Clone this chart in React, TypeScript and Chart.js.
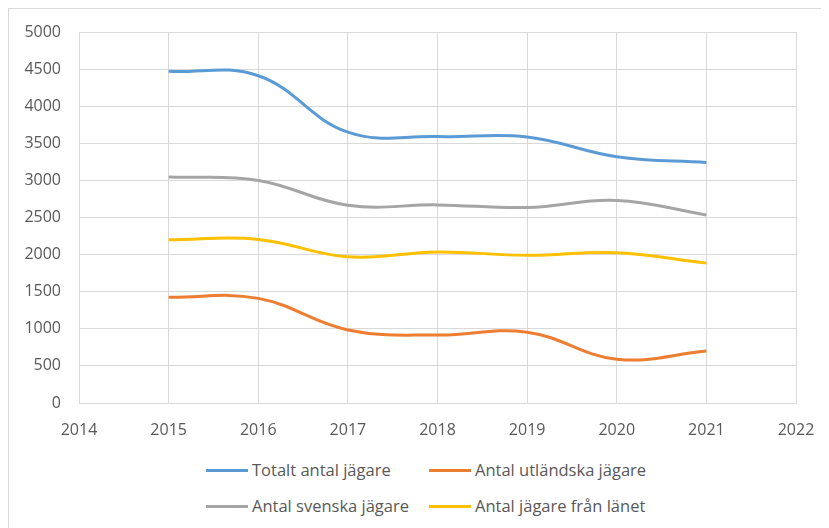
import React, { useEffect, useRef } from "react";
import { Chart, registerables } from "chart.js";

Chart.register(...registerables);

const years = [2015, 2016, 2017, 2018, 2019, 2020, 2021];
const totalt = [4470, 4410, 3650, 3590, 3585, 3320, 3240];
const utlandska = [1425, 1410, 985, 915, 955, 590, 700];
const svenska = [3045, 3000, 2665, 2670, 2635, 2730, 2535];
const lanet = [2200, 2205, 1970, 2035, 1990, 2025, 1885];

const seriesNames = [
  "Totalt antal jägare",
  "Antal utländska jägare",
  "Antal svenska jägare",
  "Antal jägare från länet",
];
const seriesColors = ["#5B9BD5", "#ED7D31", "#A5A5A5", "#FFC000"];
const seriesValues = [totalt, utlandska, svenska, lanet];

const xMin = 2014;
const xMax = 2022;
const yMin = 0;
const yMax = 5000;
const yStep = 500;

const FONT = "'Open Sans', 'Noto Sans', sans-serif";
const TEXT = "#595959";
const GRID = "#d9d9d9";

export default function App() {
  const ref = useRef<HTMLCanvasElement | null>(null);

  useEffect(() => {
    if (!ref.current) return;
    const chart = new Chart(ref.current, {
      type: "line",
      data: {
        datasets: seriesNames.map((name, i) => ({
          label: name,
          data: years.map((yr, j) => ({ x: yr, y: seriesValues[i][j] })),
          borderColor: seriesColors[i],
          backgroundColor: seriesColors[i],
          borderWidth: 3,
          pointRadius: 0,
          tension: 0.4,
          fill: false,
        })),
      },
      options: {
        responsive: false,
        animation: false,
        layout: { padding: { left: 0, right: 33, top: 23, bottom: 8 } },
        plugins: {
          legend: { display: false },
          tooltip: { enabled: false },
        },
        scales: {
          x: {
            type: "linear",
            min: xMin,
            max: xMax,
            ticks: {
              stepSize: 1,
              color: TEXT,
              font: { family: FONT, size: 16 },
              padding: 18,
              callback: (v: any) => String(v),
            },
            grid: { color: GRID, lineWidth: 1, drawTicks: false },
            border: { color: GRID, width: 1 },
            afterFit: (s: any) => {
              s.height = 38;
              s.paddingLeft = 0;
              s.paddingRight = 0;
            },
          },
          y: {
            type: "linear",
            min: yMin,
            max: yMax,
            ticks: {
              stepSize: yStep,
              color: TEXT,
              font: { family: FONT, size: 16 },
              padding: 18,
              callback: (v: any) => String(v),
            },
            grid: { color: GRID, lineWidth: 1, drawTicks: false },
            border: { color: GRID, width: 1 },
            afterFit: (s: any) => {
              s.width = 70;
              s.paddingTop = 0;
              s.paddingBottom = 0;
            },
          },
        },
      },
    });
    return () => chart.destroy();
  }, []);

  const legendPos = [
    { left: 197, top: 461 },
    { left: 420, top: 461 },
    { left: 197, top: 497 },
    { left: 420, top: 497 },
  ];

  return (
    <div
      style={{
        position: "relative",
        width: 821,
        height: 520,
        boxSizing: "border-box",
        borderTop: `1px solid ${GRID}`,
        borderLeft: `1px solid ${GRID}`,
        background: "#fff",
        overflow: "hidden",
      }}
    >
      <canvas ref={ref} width={820} height={440} style={{ display: "block" }} />
      {seriesNames.map((name, i) => (
        <div
          key={name}
          style={{
            position: "absolute",
            left: legendPos[i].left,
            top: legendPos[i].top,
            transform: "translateY(-50%)",
            display: "flex",
            alignItems: "center",
            whiteSpace: "nowrap",
          }}
        >
          <span
            style={{
              display: "inline-block",
              width: 42,
              height: 3,
              background: seriesColors[i],
              marginRight: 4,
            }}
          />
          <span
            style={{
              fontFamily: FONT,
              fontSize: 16.5,
              color: TEXT,
              lineHeight: "20px",
            }}
          >
            {name}
          </span>
        </div>
      ))}
    </div>
  );
}
